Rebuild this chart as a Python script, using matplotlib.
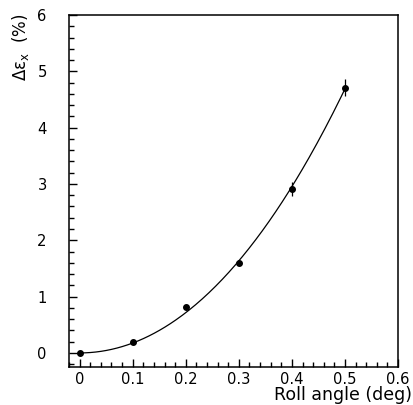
import numpy as np
import matplotlib
matplotlib.use("Agg")
import matplotlib.pyplot as plt
from matplotlib.ticker import MultipleLocator

plt.rcParams['font.family'] = ['DejaVu Sans']
plt.rcParams['mathtext.fontset'] = 'dejavusans'

# measured points
roll_angle = [0.0, 0.1, 0.2, 0.3, 0.4, 0.5]
delta_emit = [0.0, 0.19, 0.82, 1.60, 2.91, 4.71]
delta_err = [0.0, 0.0, 0.0, 0.0, 0.12, 0.15]

x = np.array(roll_angle)
y = np.array(delta_emit)

# fitted curve (quadratic + cubic terms, through origin)
A = np.vstack([x**2, x**3]).T
coef, *_ = np.linalg.lstsq(A, y, rcond=None)
xf = np.linspace(0, 0.5, 200)
yf = coef[0] * xf**2 + coef[1] * xf**3

fig = plt.figure(figsize=(4.14, 4.05), dpi=100)
ax = fig.add_axes([0.1667, 0.0938, 0.7947, 0.8692])

ax.plot(xf, yf, color='black', lw=0.9)
ax.errorbar(x, y, yerr=delta_err, fmt='o', color='black', ms=4,
            elinewidth=0.9, capsize=0)

ax.set_xlim(-0.02, 0.6)
ax.set_ylim(-0.25, 6)
ax.xaxis.set_minor_locator(MultipleLocator(0.02))
ax.yaxis.set_minor_locator(MultipleLocator(0.2))
ax.set_xticks([0, 0.1, 0.2, 0.3, 0.4, 0.5, 0.6])
ax.set_xticklabels(['0', '0.1', '0.2', '0.3', '0.4', '0.5', '0.6'])
ax.set_yticks([0, 1, 2, 3, 4, 5, 6])
ax.set_yticklabels(['0', '1', '2', '3', '4', '5', '6'])
ax.tick_params(which='both', direction='in', labelsize=10.6, width=1)
ax.tick_params(which='major', length=6)
ax.tick_params(which='minor', length=3.5)
ax.tick_params(axis='x', which='major', pad=3.5)
ax.tick_params(axis='y', which='major', pad=16)
for s in ax.spines.values():
    s.set_linewidth(1.1)

ax.set_xlabel('Roll angle (deg)', fontsize=12.5, loc='right')
ax.xaxis.set_label_coords(1.043, -0.055)
ax.set_ylabel(r'$\Delta\mathrm{\varepsilon}_{\mathrm{x}}$  (%)', fontsize=12, loc='top')
ax.yaxis.set_label_coords(-0.115, 1.006)

plt.savefig('out.png', dpi=100)
plt.close()
